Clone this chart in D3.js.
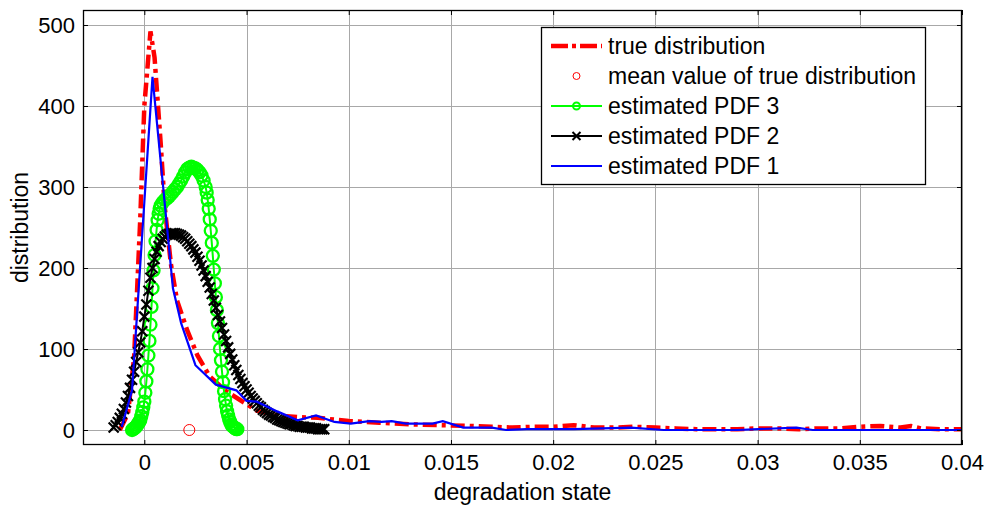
<!DOCTYPE html>
<html>
<head>
<meta charset="utf-8">
<script src="https://cdn.jsdelivr.net/npm/d3@7"></script>
<style>
  html, body { margin: 0; padding: 0; background: #fff; }
  svg { display: block; font-family: "Liberation Sans", Arial, sans-serif; }
</style>
</head>
<body>
<svg id="chart" width="990" height="506"></svg>
<script>
// ---------------- data ----------------
const xTicks = [0, 0.005, 0.01, 0.015, 0.02, 0.025, 0.03, 0.035, 0.04];
const xTickLabels = ["0", "0.005", "0.01", "0.015", "0.02", "0.025", "0.03", "0.035", "0.04"];
const yTicks = [0, 100, 200, 300, 400, 500];
const yTickLabels = ["0", "100", "200", "300", "400", "500"];
const seriesNames = ["true distribution", "mean value of true distribution", "estimated PDF 3", "estimated PDF 2", "estimated PDF 1"];

// true distribution (red dash-dot)
const trueDist = [
  [-0.0012, 0], [-0.0008, 20], [-0.0005, 90], [-0.0002, 260], [0.0000, 400], [0.0003, 492],
  [0.0005, 460], [0.0008, 354], [0.0010, 275], [0.0013, 205], [0.0016, 160], [0.0021, 123],
  [0.0026, 92], [0.0032, 66], [0.0040, 48], [0.0050, 32], [0.0055, 24], [0.0065, 18],
  [0.0075, 16], [0.0085, 15], [0.0100, 11], [0.0115, 9], [0.0130, 7], [0.0145, 6],
  [0.0160, 5], [0.0170, 4], [0.0180, 3], [0.0190, 4], [0.0200, 4], [0.0210, 6],
  [0.0220, 3], [0.0230, 3], [0.0240, 4], [0.0250, 3], [0.0260, 2], [0.0270, 1],
  [0.0280, 1], [0.0290, 1], [0.0300, 2], [0.0310, 2], [0.0320, 1], [0.0330, 2],
  [0.0340, 2], [0.0350, 4], [0.0360, 5], [0.0370, 3], [0.0375, 5], [0.0380, 2],
  [0.0390, 1], [0.0400, 1]
];

// mean value of true distribution
const meanPoint = [[0.0022, 0]];

// estimated PDF 3 (green, circles)
const pdf3 = [
  [-0.00060, 0], [-0.00055, 1], [-0.00050, 2], [-0.00045, 3], [-0.00040, 4], [-0.00035, 6],
  [-0.00030, 8], [-0.00025, 10], [-0.00020, 12], [-0.00015, 17], [-0.00010, 22], [-0.00005, 28],
  [0.00000, 35], [0.00005, 46], [0.00010, 60], [0.00015, 75], [0.00020, 92], [0.00025, 110],
  [0.00030, 130], [0.00035, 152], [0.00040, 175], [0.00045, 197], [0.00050, 216], [0.00055, 233],
  [0.00060, 247], [0.00065, 259], [0.00070, 267], [0.00075, 273], [0.00080, 277], [0.00090, 281],
  [0.00100, 284], [0.00110, 286], [0.00120, 288], [0.00130, 291], [0.00140, 294], [0.00150, 297],
  [0.00160, 300], [0.00170, 304], [0.00180, 308], [0.00190, 313], [0.00200, 318], [0.00210, 322],
  [0.00220, 324], [0.00230, 325], [0.00240, 324], [0.00250, 323], [0.00260, 321], [0.00270, 318],
  [0.00280, 314], [0.00290, 308], [0.00300, 300], [0.00305, 293], [0.00310, 284], [0.00315, 273],
  [0.00320, 260], [0.00325, 246], [0.00330, 231], [0.00335, 215], [0.00340, 198], [0.00345, 181],
  [0.00350, 164], [0.00355, 148], [0.00360, 132], [0.00365, 116], [0.00370, 100], [0.00375, 86],
  [0.00380, 72], [0.00385, 59], [0.00390, 48], [0.00395, 38], [0.00400, 30], [0.00405, 23],
  [0.00410, 18], [0.00415, 13], [0.00420, 10], [0.00425, 7], [0.00430, 5], [0.00435, 4],
  [0.00440, 3], [0.00445, 2], [0.00450, 1], [0.00455, 1]
];

// estimated PDF 2 (black, x markers)
const pdf2 = [
  [-0.0015, 3], [-0.0014, 6], [-0.0013, 10], [-0.0012, 15], [-0.0011, 20], [-0.0010, 26],
  [-0.0009, 34], [-0.0008, 42], [-0.0007, 52], [-0.0006, 62], [-0.0005, 72], [-0.0004, 84],
  [-0.0003, 96], [-0.0002, 108], [-0.0001, 122], [0.0000, 140], [0.0001, 155], [0.0002, 172],
  [0.0003, 188], [0.0004, 200], [0.0005, 211], [0.0006, 220], [0.0007, 227], [0.0008, 232],
  [0.0009, 236], [0.0010, 239], [0.0011, 241], [0.0012, 242], [0.0013, 243], [0.0014, 243],
  [0.0015, 243], [0.0016, 242], [0.0017, 241], [0.0018, 240], [0.0019, 238], [0.0020, 236],
  [0.0021, 233], [0.0022, 230], [0.0023, 227], [0.0024, 223], [0.0025, 219], [0.0026, 214],
  [0.0027, 209], [0.0028, 203], [0.0029, 197], [0.0030, 190], [0.0031, 183], [0.0032, 176],
  [0.0033, 168], [0.0034, 160], [0.0035, 151], [0.0036, 142], [0.0037, 134], [0.0038, 126],
  [0.0039, 118], [0.0040, 110], [0.0041, 102], [0.0042, 94], [0.0043, 87], [0.0044, 80],
  [0.0045, 74], [0.0046, 68], [0.0047, 63], [0.0048, 58], [0.0049, 54], [0.0050, 50],
  [0.0051, 46], [0.0052, 42], [0.0053, 39], [0.0054, 36], [0.0055, 33], [0.0056, 30],
  [0.0057, 28], [0.0058, 25], [0.0059, 23], [0.0060, 21], [0.0061, 19], [0.0062, 18],
  [0.0063, 16], [0.0064, 15], [0.0065, 13], [0.0066, 12], [0.0067, 11], [0.0068, 10],
  [0.0069, 9], [0.0070, 8], [0.0071, 7], [0.0072, 7], [0.0073, 6], [0.0074, 5],
  [0.0075, 5], [0.0076, 4], [0.0077, 4], [0.0078, 4], [0.0079, 3], [0.0080, 3],
  [0.0081, 3], [0.0082, 2], [0.0083, 2], [0.0084, 2], [0.0085, 1], [0.0086, 1],
  [0.0087, 1], [0.0088, 1]
];

// estimated PDF 1 (blue line)
const pdf1 = [
  [-0.0011, 4], [-0.0006, 49], [0.0004, 436], [0.0014, 175], [0.0018, 132], [0.0025, 80],
  [0.0035, 56], [0.0045, 49], [0.0050, 36], [0.0055, 35], [0.0065, 23], [0.0075, 12],
  [0.0084, 18], [0.0093, 10], [0.0101, 8], [0.0110, 11], [0.0116, 10], [0.0121, 11],
  [0.0128, 8], [0.0141, 8], [0.0146, 11], [0.0156, 3], [0.0170, 3], [0.0177, 0],
  [0.0187, 1], [0.0210, 1], [0.0238, 3], [0.0254, 0], [0.0290, 0], [0.0319, 3],
  [0.0327, 0], [0.0400, 0]
];

// ---------------- drawing ----------------
const svg = d3.select("#chart");
const L = 83, R = 962, T = 10, B = 445;
const x = d3.scaleLinear().domain([-0.003, 0.04]).range([L, R]);
const y = d3.scaleLinear().domain([-18.5, 518.5]).range([B, T]);

svg.append("rect").attr("x", 0).attr("y", 0).attr("width", 990).attr("height", 506).attr("fill", "#fff");

// grid
const grid = svg.append("g").attr("stroke", "#a8a8a8").attr("stroke-width", 1).attr("shape-rendering", "crispEdges");
grid.selectAll("line.gx").data(xTicks).enter().append("line")
  .attr("x1", d => Math.round(x(d)) + 0.5).attr("x2", d => Math.round(x(d)) + 0.5)
  .attr("y1", T).attr("y2", B);
grid.selectAll("line.gy").data(yTicks).enter().append("line")
  .attr("x1", L).attr("x2", R)
  .attr("y1", d => Math.round(y(d)) + 0.5).attr("y2", d => Math.round(y(d)) + 0.5);

const plot = svg.append("g");

const line = d3.line().x(d => x(d[0])).y(d => y(d[1]));

// true distribution
plot.append("path").datum(trueDist)
  .attr("d", line).attr("fill", "none").attr("stroke", "#ff0000")
  .attr("stroke-width", 4.5).attr("stroke-dasharray", "14,5,4,5");

// mean value
plot.selectAll("circle.mean").data(meanPoint).enter().append("circle")
  .attr("cx", d => x(d[0])).attr("cy", d => y(d[1])).attr("r", 5.5)
  .attr("fill", "none").attr("stroke", "#ff0000").attr("stroke-width", 1);

// PDF 3 green
plot.append("path").datum(pdf3).attr("d", line).attr("fill", "none")
  .attr("stroke", "#00ff00").attr("stroke-width", 2);
plot.selectAll("circle.p3").data(pdf3).enter().append("circle")
  .attr("cx", d => x(d[0])).attr("cy", d => y(d[1])).attr("r", 6)
  .attr("fill", "none").attr("stroke", "#00ff00").attr("stroke-width", 2.3);

// PDF 2 black
plot.append("path").datum(pdf2).attr("d", line).attr("fill", "none")
  .attr("stroke", "#000").attr("stroke-width", 2);
const xs = 5;
plot.selectAll("path.p2").data(pdf2).enter().append("path")
  .attr("d", d => {
    const cx = x(d[0]), cy = y(d[1]);
    return `M${cx - xs},${cy - xs}L${cx + xs},${cy + xs}M${cx - xs},${cy + xs}L${cx + xs},${cy - xs}`;
  })
  .attr("stroke", "#000").attr("stroke-width", 2.2).attr("fill", "none");

// PDF 1 blue
plot.append("path").datum(pdf1).attr("d", line).attr("fill", "none")
  .attr("stroke", "#0000ff").attr("stroke-width", 2.2);

// axes (ticks inside)
const fontSize = 22;
const axB = svg.append("g").attr("transform", `translate(0,${B})`)
  .call(d3.axisBottom(x).tickValues(xTicks).tickFormat((d, i) => xTickLabels[i]).tickSize(-5).tickPadding(9));
const axT = svg.append("g").attr("transform", `translate(0,${T})`)
  .call(d3.axisTop(x).tickValues(xTicks).tickFormat("").tickSize(-5));
const axL = svg.append("g").attr("transform", `translate(${L},0)`)
  .call(d3.axisLeft(y).tickValues(yTicks).tickFormat((d, i) => yTickLabels[i]).tickSize(-5).tickPadding(8));
const axR = svg.append("g").attr("transform", `translate(${R},0)`)
  .call(d3.axisRight(y).tickValues(yTicks).tickFormat("").tickSize(-5));
[axB, axT, axL, axR].forEach(g => {
  g.select(".domain").remove();
  g.selectAll("line").attr("stroke", "#000").attr("stroke-width", 1);
  g.selectAll("text").attr("font-size", fontSize).attr("fill", "#000")
    .attr("font-family", "Liberation Sans, Arial, sans-serif");
});

// frame
svg.append("rect").attr("x", L + 0.5).attr("y", T + 0.5).attr("width", R - L - 1).attr("height", B - T - 1)
  .attr("fill", "none").attr("stroke", "#000").attr("stroke-width", 1.3);

// axis labels
svg.append("text").attr("x", (L + R) / 2).attr("y", 500).attr("text-anchor", "middle")
  .attr("font-size", 23).text("degradation state");
svg.append("text").attr("transform", `translate(28,${(T + B) / 2}) rotate(-90)`).attr("text-anchor", "middle")
  .attr("font-size", 23).text("distribution");

// legend
const lg = svg.append("g");
lg.append("rect").attr("x", 541.5).attr("y", 27.5).attr("width", 384).attr("height", 157)
  .attr("fill", "#fff").attr("stroke", "#000").attr("stroke-width", 1.3);
const rows = [46, 76, 106, 136, 166];
const lx1 = 551, lx2 = 602, lxm = (551 + 602) / 2;
lg.append("line").attr("x1", lx1).attr("x2", lx2).attr("y1", rows[0]).attr("y2", rows[0])
  .attr("stroke", "#ff0000").attr("stroke-width", 4.5).attr("stroke-dasharray", "17,4,4,4");
lg.append("circle").attr("cx", lxm).attr("cy", rows[1]).attr("r", 3.5)
  .attr("fill", "none").attr("stroke", "#ff0000").attr("stroke-width", 1);
lg.append("line").attr("x1", lx1).attr("x2", lx2).attr("y1", rows[2]).attr("y2", rows[2])
  .attr("stroke", "#00ff00").attr("stroke-width", 2);
lg.append("circle").attr("cx", lxm).attr("cy", rows[2]).attr("r", 3.5)
  .attr("fill", "none").attr("stroke", "#00ff00").attr("stroke-width", 2);
lg.append("line").attr("x1", lx1).attr("x2", lx2).attr("y1", rows[3]).attr("y2", rows[3])
  .attr("stroke", "#000").attr("stroke-width", 2);
lg.append("path").attr("d", `M${lxm - 4},${rows[3] - 4}L${lxm + 4},${rows[3] + 4}M${lxm - 4},${rows[3] + 4}L${lxm + 4},${rows[3] - 4}`)
  .attr("stroke", "#000").attr("stroke-width", 2);
lg.append("line").attr("x1", lx1).attr("x2", lx2).attr("y1", rows[4]).attr("y2", rows[4])
  .attr("stroke", "#0000ff").attr("stroke-width", 2.2);
lg.selectAll("text").data(seriesNames).enter().append("text")
  .attr("x", 608).attr("y", (d, i) => rows[i]).attr("dy", "0.35em")
  .attr("font-size", 23).text(d => d);
</script>
</body>
</html>
